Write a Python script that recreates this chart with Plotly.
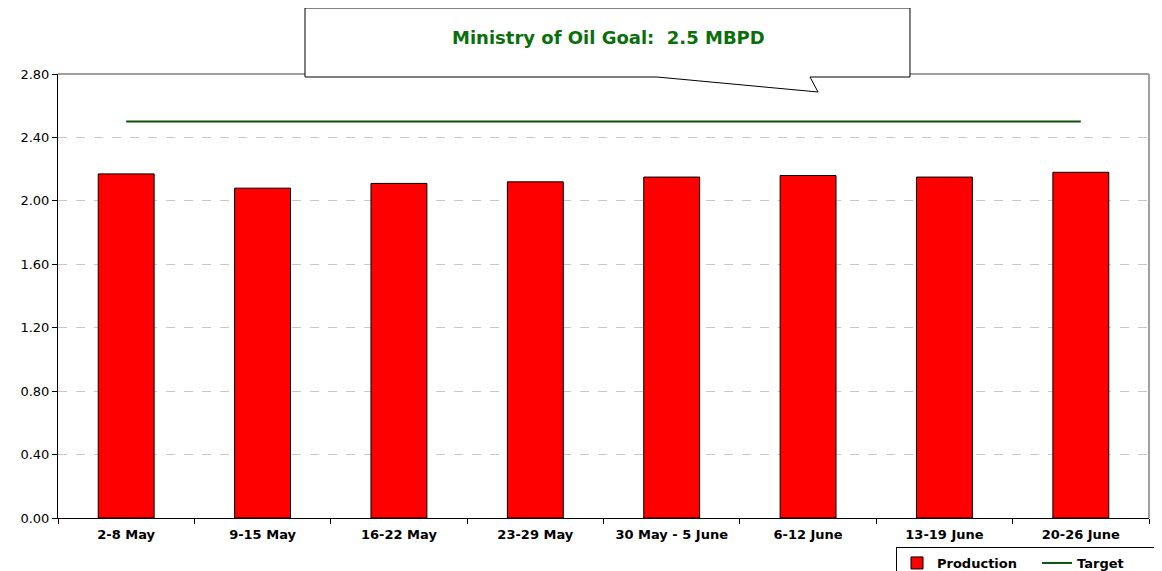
import plotly.graph_objects as go

categories = ["2-8 May", "9-15 May", "16-22 May", "23-29 May",
              "30 May - 5 June", "6-12 June", "13-19 June", "20-26 June"]
production = [2.17, 2.08, 2.11, 2.12, 2.15, 2.16, 2.15, 2.18]
target = [2.5] * len(categories)
y_ticks = [0.0, 0.4, 0.8, 1.2, 1.6, 2.0, 2.4, 2.8]

OFF = 8  # default page body margin
W, H = 1162 - OFF, 571 - OFF
L, R, T, B = 58 - OFF, 1149 - OFF, 74 - OFF, 518 - OFF

def px(x):
    return (x - OFF - L) / (R - L)

def py(y):
    return (B - (y - OFF)) / (B - T)

FONT = "DejaVu Sans, Liberation Sans, Arial, sans-serif"

fig = go.Figure()
fig.add_trace(go.Bar(
    x=categories, y=production, name="Production",
    marker=dict(color="#FF0000", line=dict(color="black", width=1)),
    width=0.41,
))
fig.add_trace(go.Scatter(
    x=categories, y=target, name="Target", mode="lines",
    line=dict(color="#0F4F0F", width=2),
))

pts = [(305, 8), (910, 8), (910, 77), (810, 77), (818, 92), (657, 77), (305, 77)]
path = "M " + " L ".join(f"{px(x):.5f},{py(y):.5f}" for x, y in pts) + " Z"

fig.update_layout(
    width=W, height=H,
    margin=dict(l=L, r=W - R, t=T, b=H - B, autoexpand=False),
    paper_bgcolor="white", plot_bgcolor="white",
    font=dict(family=FONT, color="black"),
    showlegend=True,
    legend=dict(
        orientation="h", xref="container", yref="container",
        x=(896 - OFF) / W, y=1 - (547 - OFF) / H, xanchor="left", yanchor="top",
        bordercolor="black", borderwidth=1, bgcolor="white",
        font=dict(size=13, weight="bold", family=FONT),
        tracegroupgap=0, entrywidth=95, entrywidthmode="pixels",
    ),
    xaxis=dict(
        type="category", tickson="boundaries", ticks="outside", ticklen=5,
        tickcolor="black", showline=True, linecolor="black", linewidth=1,
        showgrid=False, tickfont=dict(size=13, weight="bold", family=FONT),
        range=[-0.5, 7.5], automargin=False, ticklabelstandoff=4,
    ),
    yaxis=dict(
        range=[0, 2.8], tickvals=y_ticks, tickformat=".2f",
        ticks="outside", ticklen=5, tickcolor="black",
        showline=True, linecolor="black", linewidth=1,
        showgrid=True, gridcolor="#C8C8C8", griddash="dash", gridwidth=1,
        zeroline=False, tickfont=dict(size=13, family=FONT), automargin=False,
    ),
    shapes=[
        dict(type="line", xref="paper", yref="paper", x0=0, x1=1, y0=1, y1=1,
             line=dict(color="#A0A0A0", width=2), layer="below"),
        dict(type="line", xref="paper", yref="paper", x0=1, x1=1, y0=0, y1=1,
             line=dict(color="#A0A0A0", width=2), layer="below"),
        dict(type="path", xref="paper", yref="paper", path=path,
             fillcolor="white", line=dict(color="black", width=1), layer="above"),
    ],
    annotations=[
        dict(text="Ministry of Oil Goal:  2.5 MBPD", xref="paper", yref="paper",
             x=px(608), y=py(25), showarrow=False,
             font=dict(size=18, color="#0A6E0A", weight="bold", family=FONT)),
    ],
)

fig.write_html("out.html")
